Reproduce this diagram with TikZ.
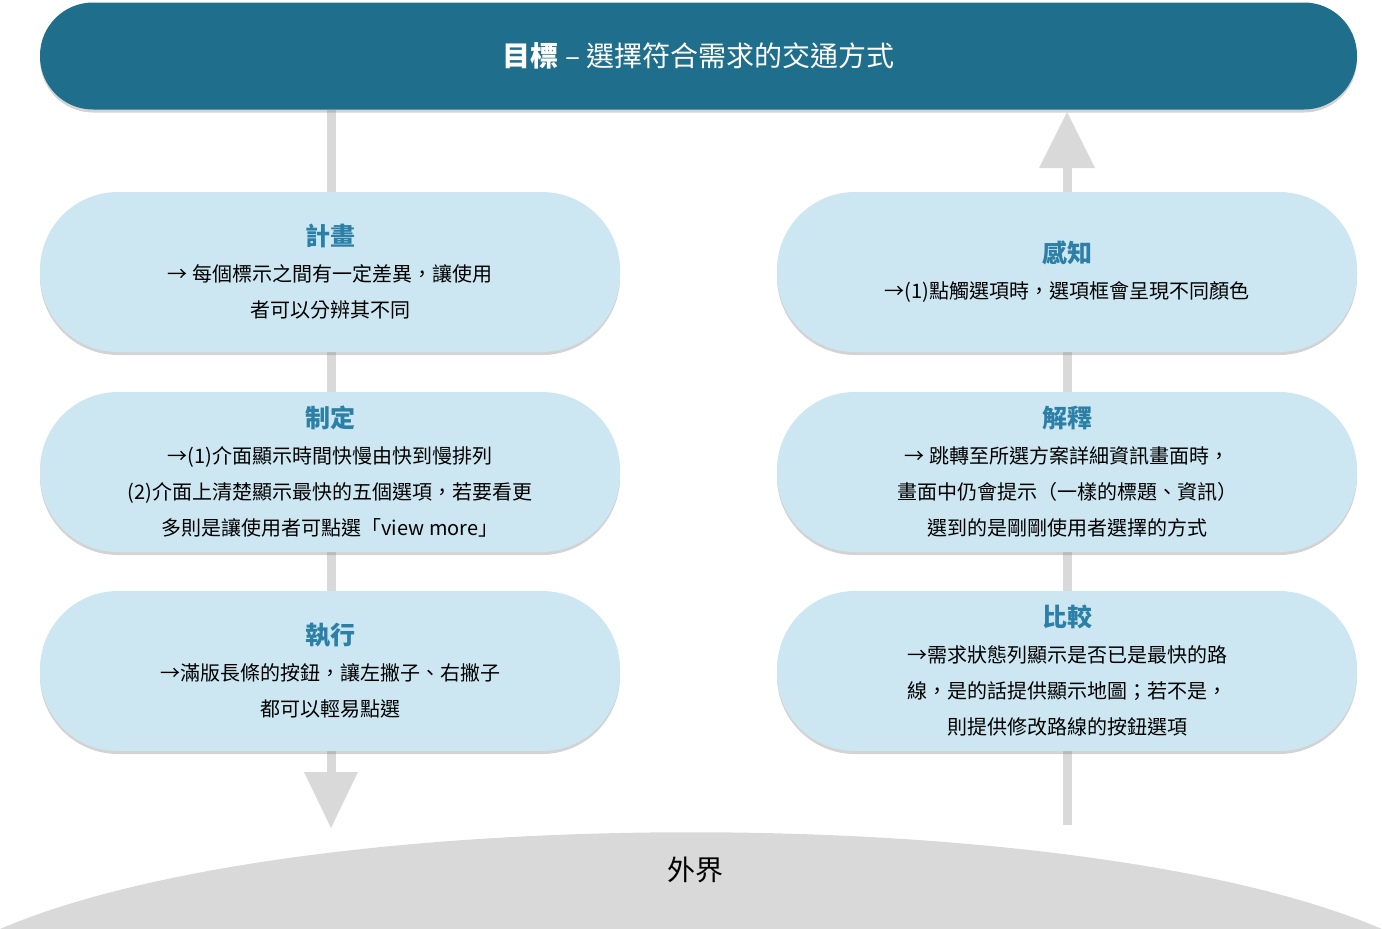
\documentclass[tikz,border=0pt]{standalone}
\usepackage{fontspec}
\setmainfont{Noto Sans CJK TC}
\usetikzlibrary{shadows}
\definecolor{dark}{HTML}{1F6E8C}
\definecolor{pale}{HTML}{CCE7F1}
\definecolor{head}{HTML}{2C7FA6}
\definecolor{grey}{HTML}{D9D9D9}
\newcommand\hdr[1]{{\color{head}\bfseries\fontsize{25}{36}\selectfont #1}}
\tikzset{
 pill/.style={fill=pale, rounded corners=78pt, minimum width=580pt, minimum height=160pt, drop shadow={opacity=0.35, shadow xshift=0pt, shadow yshift=-3pt}, align=center, font=\fontsize{20}{36}\selectfont, inner sep=0pt},
 track/.style={draw=grey, line width=9pt},
}
\begin{document}
\begin{tikzpicture}[x=1pt,y=-1pt]
\useasboundingbox (0,0) rectangle (1382,929);
\fill[grey] (0,929) .. controls (300,800) and (1082,800) .. (1382,929) -- cycle;
\node (world) at (695,870) {\fontsize{28}{30}\selectfont 外界};
% tracks
\coordinate (la) at (331,110); \coordinate (lb) at (331,775);
\coordinate (ra) at (1067,825); \coordinate (rb) at (1067,165);
\draw[track] (la) -- (lb);
\fill[grey] (304,772) -- (358,772) -- (331,828) -- cycle;
\draw[track] (ra) -- (rb);
\fill[grey] (1039,168) -- (1095,168) -- (1067,112) -- cycle;
% top bar
\node[fill=dark, rounded corners=53pt, minimum width=1317pt, minimum height=107pt, drop shadow={opacity=0.35, shadow xshift=0pt, shadow yshift=-3pt}, text=white, font=\fontsize{28}{30}\selectfont] (goal) at (698.5,56) {\textbf{目標} – 選擇符合需求的交通方式};
% left
\node[pill] (plan) at (330,272) {\hdr{計畫}\\→ 每個標示之間有一定差異，讓使用\\者可以分辨其不同};
\node[pill] (form) at (330,472) {\hdr{制定}\\→(1)介面顯示時間快慢由快到慢排列\\(2)介面上清楚顯示最快的五個選項，若要看更\\多則是讓使用者可點選「view more」};
\node[pill] (exec) at (330,671) {\hdr{執行}\\→滿版長條的按鈕，讓左撇子、右撇子\\都可以輕易點選};
% right
\node[pill] (perc) at (1067,272) {\hdr{感知}\\→(1)點觸選項時，選項框會呈現不同顏色};
\node[pill] (interp) at (1067,472) {\hdr{解釋}\\→ 跳轉至所選方案詳細資訊畫面時，\\畫面中仍會提示（一樣的標題、資訊）\\選到的是剛剛使用者選擇的方式};
\node[pill] (comp) at (1067,671) {\hdr{比較}\\→需求狀態列顯示是否已是最快的路\\線，是的話提供顯示地圖；若不是，\\則提供修改路線的按鈕選項};
\end{tikzpicture}
\end{document}
